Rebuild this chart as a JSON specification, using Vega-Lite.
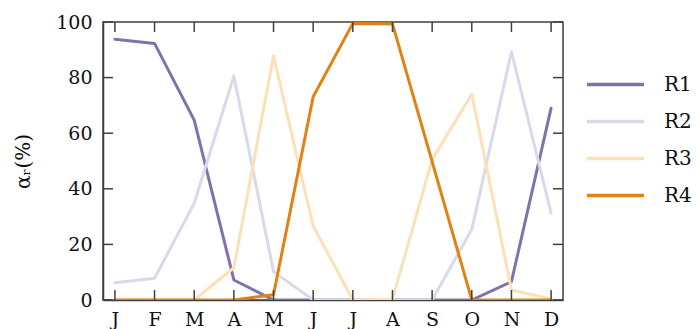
{
  "$schema": "https://vega.github.io/schema/vega-lite/v6.json",
  "width": 460,
  "height": 278,
  "autosize": {"type": "none"},
  "padding": {"left": 103, "top": 22, "right": 137, "bottom": 29},
  "background": "white",
  "config": {
    "font": "DejaVu Serif",
    "view": {"stroke": "#404040", "strokeWidth": 1.5},
    "axis": {"grid": false, "domainColor": "#404040", "domainWidth": 1.5, "ticks": false, "labelFont": "DejaVu Serif", "labelFontSize": 19, "labelColor": "#111", "titleFont": "DejaVu Serif", "titleFontSize": 20, "titleColor": "#111", "titleFontWeight": "normal"},
    "legend": {"labelFont": "DejaVu Serif"}
  },
  "datasets": {
    "series": [
      {"m": 0, "r": "R1", "v": 93.8}, {"m": 1, "r": "R1", "v": 92.3}, {"m": 2, "r": "R1", "v": 64.7}, {"m": 3, "r": "R1", "v": 7.2}, {"m": 4, "r": "R1", "v": 0}, {"m": 5, "r": "R1", "v": 0}, {"m": 6, "r": "R1", "v": 0}, {"m": 7, "r": "R1", "v": 0}, {"m": 8, "r": "R1", "v": 0}, {"m": 9, "r": "R1", "v": 0}, {"m": 10, "r": "R1", "v": 6.6}, {"m": 11, "r": "R1", "v": 69},
      {"m": 0, "r": "R2", "v": 6.2}, {"m": 1, "r": "R2", "v": 7.8}, {"m": 2, "r": "R2", "v": 34.8}, {"m": 3, "r": "R2", "v": 80.6}, {"m": 4, "r": "R2", "v": 10.2}, {"m": 5, "r": "R2", "v": 0}, {"m": 6, "r": "R2", "v": 0}, {"m": 7, "r": "R2", "v": 0}, {"m": 8, "r": "R2", "v": 0}, {"m": 9, "r": "R2", "v": 25.4}, {"m": 10, "r": "R2", "v": 89.3}, {"m": 11, "r": "R2", "v": 31.2},
      {"m": 0, "r": "R3", "v": 0}, {"m": 1, "r": "R3", "v": 0}, {"m": 2, "r": "R3", "v": 0}, {"m": 3, "r": "R3", "v": 11.6}, {"m": 4, "r": "R3", "v": 87.8}, {"m": 5, "r": "R3", "v": 26.6}, {"m": 6, "r": "R3", "v": 0}, {"m": 7, "r": "R3", "v": 0.3}, {"m": 8, "r": "R3", "v": 50.5}, {"m": 9, "r": "R3", "v": 74}, {"m": 10, "r": "R3", "v": 3.6}, {"m": 11, "r": "R3", "v": 0.4},
      {"m": 0, "r": "R4", "v": 0}, {"m": 1, "r": "R4", "v": 0}, {"m": 2, "r": "R4", "v": 0}, {"m": 3, "r": "R4", "v": 0}, {"m": 4, "r": "R4", "v": 1.9}, {"m": 5, "r": "R4", "v": 73.1}, {"m": 6, "r": "R4", "v": 99.5}, {"m": 7, "r": "R4", "v": 99.3}, {"m": 8, "r": "R4", "v": 49.8}, {"m": 9, "r": "R4", "v": 0}, {"m": 10, "r": "R4", "v": 0}, {"m": 11, "r": "R4", "v": 0}
    ],
    "xticks": [
      {"m": 0}, {"m": 1}, {"m": 2}, {"m": 3}, {"m": 4}, {"m": 5}, {"m": 6}, {"m": 7}, {"m": 8}, {"m": 9}, {"m": 10}, {"m": 11}
    ],
    "yticks": [
      {"v": 0}, {"v": 20}, {"v": 40}, {"v": 60}, {"v": 80}, {"v": 100}
    ]
  },
  "layer": [
    {
      "data": {"name": "series"},
      "mark": {"type": "line", "strokeWidth": 3, "strokeCap": "round", "strokeJoin": "round", "clip": true},
      "encoding": {
        "x": {"field": "m", "type": "quantitative", "scale": {"domain": [-0.3, 11.3], "nice": false, "zero": false},
          "axis": {"title": null, "values": [0,1,2,3,4,5,6,7,8,9,10,11], "labelExpr": "['J','F','M','A','M','J','J','A','S','O','N','D'][datum.value]", "labelPadding": 10}},
        "y": {"field": "v", "type": "quantitative", "scale": {"domain": [0, 100], "nice": false},
          "axis": {"title": "αᵣ(%)", "values": [0,20,40,60,80,100], "labelPadding": 11, "titlePadding": 22, "labelFlush": false}},
        "color": {"field": "r", "type": "nominal", "scale": {"domain": ["R1","R2","R3","R4"], "range": ["#8073ac", "#d8daeb", "#fee0b6", "#e08214"]},
          "legend": {"title": null, "orient": "none", "legendX": 482, "legendY": 44, "symbolType": "stroke", "symbolSize": 3249, "symbolStrokeWidth": 3.5, "labelFontSize": 20, "labelFont": "DejaVu Serif", "labelColor": "#111", "labelOffset": 18, "clipHeight": 37, "rowPadding": 0}},
        "order": {"field": "m", "type": "quantitative"}
      }
    },
    {
      "data": {"name": "xticks"},
      "mark": {"type": "tick", "orient": "vertical", "size": 10, "thickness": 1.5, "color": "#404040", "opacity": 1, "yOffset": -5},
      "encoding": {
        "x": {"field": "m", "type": "quantitative"},
        "y": {"datum": 0, "type": "quantitative"}
      }
    },
    {
      "data": {"name": "xticks"},
      "mark": {"type": "tick", "orient": "vertical", "size": 10, "thickness": 1.5, "color": "#404040", "opacity": 1, "yOffset": 5},
      "encoding": {
        "x": {"field": "m", "type": "quantitative"},
        "y": {"datum": 100, "type": "quantitative"}
      }
    },
    {
      "data": {"name": "yticks"},
      "mark": {"type": "tick", "orient": "horizontal", "size": 10, "thickness": 1.5, "color": "#404040", "opacity": 1, "xOffset": 5},
      "encoding": {
        "x": {"datum": -0.3, "type": "quantitative"},
        "y": {"field": "v", "type": "quantitative"}
      }
    },
    {
      "data": {"name": "yticks"},
      "mark": {"type": "tick", "orient": "horizontal", "size": 10, "thickness": 1.5, "color": "#404040", "opacity": 1, "xOffset": -5},
      "encoding": {
        "x": {"datum": 11.3, "type": "quantitative"},
        "y": {"field": "v", "type": "quantitative"}
      }
    }
  ]
}
